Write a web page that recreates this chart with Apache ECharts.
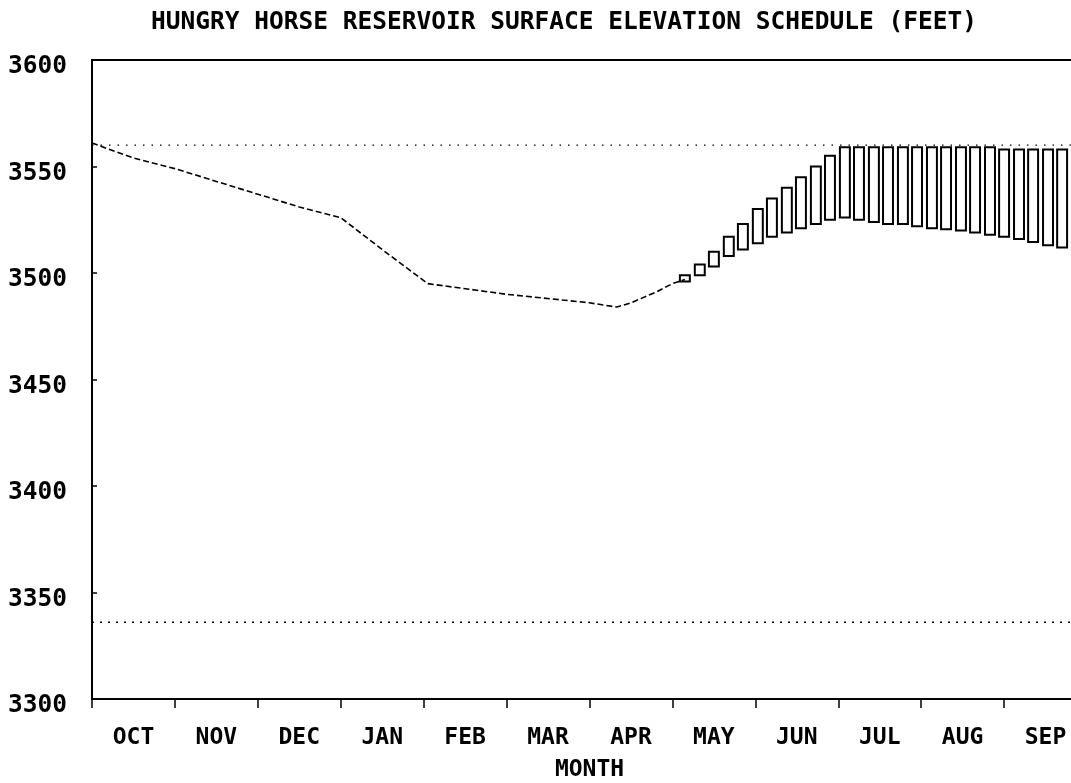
<!DOCTYPE html>
<html>
<head>
<meta charset="utf-8">
<script src="https://cdn.jsdelivr.net/npm/echarts@6/dist/echarts.min.js"></script>
<style>html,body{margin:0;padding:0;background:#fff}#c{width:1071px;height:783px}</style>
</head>
<body>
<div id="c"></div>
<script>
// ---- data ----
const months = ['OCT','NOV','DEC','JAN','FEB','MAR','APR','MAY','JUN','JUL','AUG','SEP'];
const yTickValues = [3300, 3350, 3400, 3450, 3500, 3550, 3600];
// rule curve (month position from start of October, elevation ft)
const ruleMonth = [0, 0.5, 1, 1.5, 2, 2.5, 3, 3.5, 4.05, 5, 6, 6.33, 6.5, 6.8, 7.0, 7.15];
const ruleElev  = [3561, 3554, 3549, 3543, 3537, 3531, 3526, 3511, 3495, 3490, 3486, 3484, 3486, 3491, 3495, 3497];
// refill range bars
const barMonth = [7.15, 7.33, 7.50, 7.68, 7.85, 8.03, 8.20, 8.38, 8.55, 8.73, 8.90, 9.08, 9.25, 9.43,
                  9.60, 9.78, 9.95, 10.13, 10.30, 10.48, 10.65, 10.83, 11.00, 11.18, 11.35, 11.53, 11.70];
const barTop    = [3499, 3504, 3510, 3517, 3523, 3530, 3535, 3540, 3545, 3550, 3555, 3559, 3559, 3559,
                   3559, 3559, 3559, 3559, 3559, 3559, 3559, 3559, 3558, 3558, 3558, 3558, 3558];
const barBottom = [3496, 3499, 3503, 3508, 3511, 3514, 3517, 3519, 3521, 3523, 3525, 3526, 3525, 3524,
                   3523, 3523, 3522, 3521, 3520.5, 3520, 3519, 3518, 3517, 3516, 3514.5, 3513, 3512];
// reference pool levels
const fullPool = 3560;
const minPool = 3336;
const monthRange = [0, 12];

// ---- chart ----
const FONT = 'DejaVu Sans Mono';
const chart = echarts.init(document.getElementById('c'), null, {renderer: 'canvas'});
const barData = barMonth.map((m, i) => [m, barBottom[i], barTop[i]]);
const ruleData = ruleMonth.map((m, i) => [m, ruleElev[i]]);

chart.setOption({
  animation: false,
  backgroundColor: '#fff',
  title: {
    text: 'HUNGRY HORSE RESERVOIR SURFACE ELEVATION SCHEDULE (FEET)',
    left: 146, top: 5,
    textStyle: {fontFamily: FONT, fontSize: 24.5, fontWeight: 'bold', color: '#000'}
  },
  grid: {left: 92, right: -16, top: 60, bottom: 84, show: true, borderColor: '#000', borderWidth: 2,
         backgroundColor: 'transparent', containLabel: false, outerBoundsMode: 'none'},
  xAxis: [
    {
      type: 'value', min: monthRange[0], max: monthRange[1], interval: 1, position: 'bottom',
      axisLine: {show: true, lineStyle: {color: '#000', width: 2}},
      axisTick: {show: true, inside: false, length: 9, lineStyle: {color: '#000', width: 1.5}},
      axisLabel: {show: false},
      splitLine: {show: false},
      name: 'MONTH', nameLocation: 'middle', nameGap: 60,
      nameTextStyle: {fontFamily: FONT, fontSize: 23, fontWeight: 'bold', color: '#000'}
    },
    {
      type: 'category', data: months, boundaryGap: true, position: 'bottom',
      axisLine: {show: false}, axisTick: {show: false}, splitLine: {show: false},
      axisLabel: {fontFamily: FONT, fontSize: 23, fontWeight: 'bold', color: '#000', margin: 28}
    }
  ],
  yAxis: {
    type: 'value', min: yTickValues[0], max: yTickValues[yTickValues.length - 1], interval: 50,
    axisLine: {show: true, lineStyle: {color: '#000', width: 2}},
    axisTick: {show: true, inside: true, length: 5, lineStyle: {color: '#000', width: 1.5}},
    splitLine: {show: false},
    axisLabel: {fontFamily: FONT, fontSize: 24.5, fontWeight: 'bold', color: '#000', margin: 25,
                verticalAlign: 'top', lineHeight: 14, formatter: v => String(v)}
  },
  series: [
    {
      type: 'line', xAxisIndex: 0, data: [[monthRange[0], fullPool], [monthRange[1], fullPool]],
      symbol: 'none', silent: true,
      lineStyle: {color: '#000', width: 1.2, type: [1.5, 7]}
    },
    {
      type: 'line', xAxisIndex: 0, data: [[monthRange[0], minPool], [monthRange[1], minPool]],
      symbol: 'none', silent: true,
      lineStyle: {color: '#000', width: 1.6, type: [2, 6]}
    },
    {
      type: 'line', xAxisIndex: 0, data: ruleData, symbol: 'none',
      lineStyle: {color: '#000', width: 1.6, type: [6, 3]}
    },
    {
      type: 'custom', xAxisIndex: 0, data: barData,
      encode: {x: 0, y: [1, 2]},
      renderItem: function (params, api) {
        const x = api.value(0), lo = api.value(1), hi = api.value(2);
        const p1 = api.coord([x, hi]);
        const p2 = api.coord([x, lo]);
        const w = api.size([0.12, 0])[0];
        return {
          type: 'rect',
          shape: {x: p1[0] - w / 2, y: p1[1], width: w, height: Math.max(p2[1] - p1[1], 1)},
          style: {fill: '#fff', stroke: '#000', lineWidth: 2}
        };
      }
    }
  ]
});
</script>
</body>
</html>
